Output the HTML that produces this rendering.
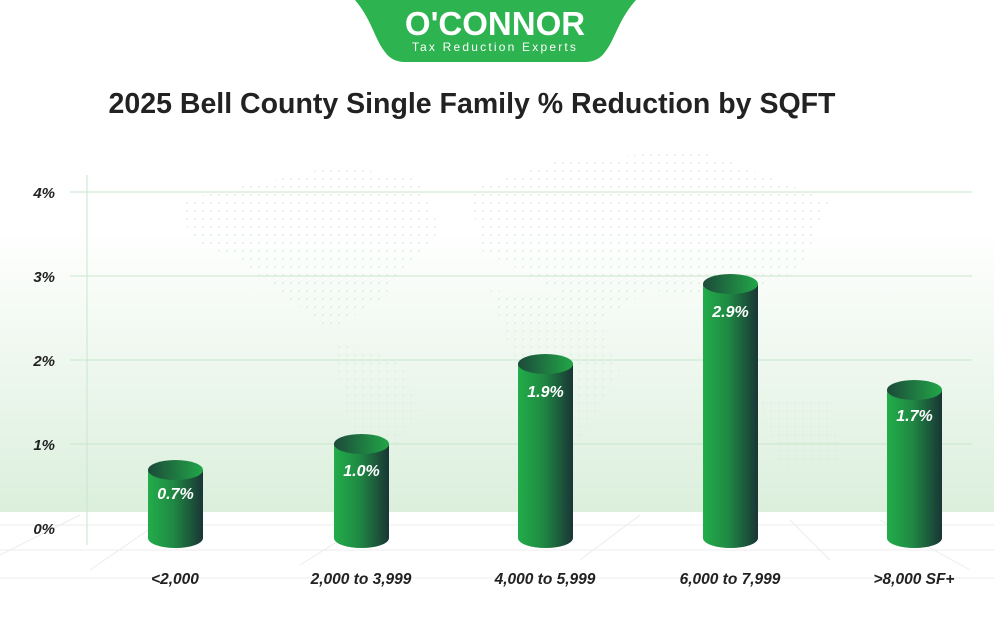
<!DOCTYPE html>
<html><head><meta charset="utf-8"><style>
body{margin:0;width:994px;height:612px;overflow:hidden;background:#fff;font-family:"Liberation Sans",sans-serif}
</style></head><body>
<svg width="994" height="612" xmlns="http://www.w3.org/2000/svg">
<defs>
<linearGradient id="bg" x1="0" y1="0" x2="0" y2="1">
<stop offset="0" stop-color="#fff"/><stop offset="1" stop-color="#dbefdc"/></linearGradient>
<linearGradient id="cyl" x1="0" y1="0" x2="1" y2="0">
<stop offset="0" stop-color="#22ad4a"/><stop offset="0.45" stop-color="#1f8a43"/><stop offset="1" stop-color="#1a3535"/></linearGradient>
<linearGradient id="top" x1="0" y1="0" x2="1" y2="0">
<stop offset="0" stop-color="#1c4a3a"/><stop offset="1" stop-color="#22a648"/></linearGradient>
<pattern id="dots" width="8" height="8" patternUnits="userSpaceOnUse"><circle cx="3" cy="3" r="1.1" fill="#d3ecd6"/></pattern>
</defs>
<rect x="0" y="230" width="994" height="282" fill="url(#bg)"/>
<g fill="url(#dots)" opacity="0.6">
<path d="M180 200 L340 165 L420 180 L440 230 L380 300 L330 330 L290 300 L240 260 L190 240Z"/>
<path d="M330 340 L400 360 L420 410 L380 470 L350 430Z"/>
<path d="M470 190 L560 160 L700 150 L830 200 L800 270 L720 300 L650 290 L600 320 L540 280 L480 250Z"/>
<path d="M490 290 L590 300 L620 370 L580 440 L540 420 L510 350Z"/>
<path d="M760 400 L830 400 L840 460 L780 470Z"/>
</g>
<g stroke="#ececec" stroke-width="1">
<line x1="0" y1="525" x2="994" y2="525"/><line x1="0" y1="550" x2="994" y2="550"/><line x1="0" y1="578" x2="994" y2="578"/>
<line x1="0" y1="555" x2="80" y2="515"/><line x1="90" y1="570" x2="170" y2="515"/><line x1="300" y1="565" x2="380" y2="515"/>
<line x1="580" y1="560" x2="640" y2="515"/><line x1="790" y1="520" x2="830" y2="560"/><line x1="880" y1="520" x2="970" y2="570"/>
</g>
<g stroke="#c8e6cc" stroke-width="1">
<line x1="70" y1="192" x2="972" y2="192"/><line x1="70" y1="276" x2="972" y2="276"/>
<line x1="70" y1="360" x2="972" y2="360"/><line x1="70" y1="444" x2="972" y2="444"/>
<line x1="87" y1="175" x2="87" y2="545"/>
</g>
<g font-weight="bold" font-style="italic" font-size="15" fill="#222" text-anchor="end">
<text x="55" y="198">4%</text><text x="55" y="282">3%</text><text x="55" y="366">2%</text><text x="55" y="450">1%</text><text x="55" y="534">0%</text>
</g>
<g>
<path d="M148 470 V538 A27.5 10 0 0 0 203 538 V470Z" fill="url(#cyl)"/><ellipse cx="175.5" cy="470" rx="27.5" ry="10" fill="url(#top)"/>
<path d="M334 444 V538 A27.5 10 0 0 0 389 538 V444Z" fill="url(#cyl)"/><ellipse cx="361.5" cy="444" rx="27.5" ry="10" fill="url(#top)"/>
<path d="M518 364 V538 A27.5 10 0 0 0 573 538 V364Z" fill="url(#cyl)"/><ellipse cx="545.5" cy="364" rx="27.5" ry="10" fill="url(#top)"/>
<path d="M703 284 V538 A27.5 10 0 0 0 758 538 V284Z" fill="url(#cyl)"/><ellipse cx="730.5" cy="284" rx="27.5" ry="10" fill="url(#top)"/>
<path d="M887 390 V538 A27.5 10 0 0 0 942 538 V390Z" fill="url(#cyl)"/><ellipse cx="914.5" cy="390" rx="27.5" ry="10" fill="url(#top)"/>
</g>
<g font-weight="bold" font-style="italic" font-size="16" fill="#fff" text-anchor="middle">
<text x="175.5" y="499">0.7%</text><text x="361.5" y="476">1.0%</text><text x="545.5" y="397">1.9%</text><text x="730.5" y="317">2.9%</text><text x="914.5" y="421">1.7%</text>
</g>
<g font-weight="bold" font-style="italic" font-size="15.5" fill="#222" text-anchor="middle">
<text x="175" y="584">&lt;2,000</text><text x="361" y="584">2,000 to 3,999</text><text x="545" y="584">4,000 to 5,999</text><text x="730" y="584">6,000 to 7,999</text><text x="914" y="584">&gt;8,000 SF+</text>
</g>
<path d="M355 0 H636 C618 20 615 40 605 52 Q598 62 585 62 H405 Q392 62 385 52 C375 40 372 20 355 0Z" fill="#2db350"/>
<text x="495" y="35" text-anchor="middle" font-weight="bold" font-size="33" fill="#fff">O'CONNOR</text>
<text x="495" y="51" text-anchor="middle" font-size="12" letter-spacing="2.2" fill="#fff">Tax Reduction Experts</text>
<text x="472" y="113" text-anchor="middle" font-weight="bold" font-size="28.5" fill="#222">2025 Bell County Single Family % Reduction by SQFT</text>
</svg>
</body></html>
